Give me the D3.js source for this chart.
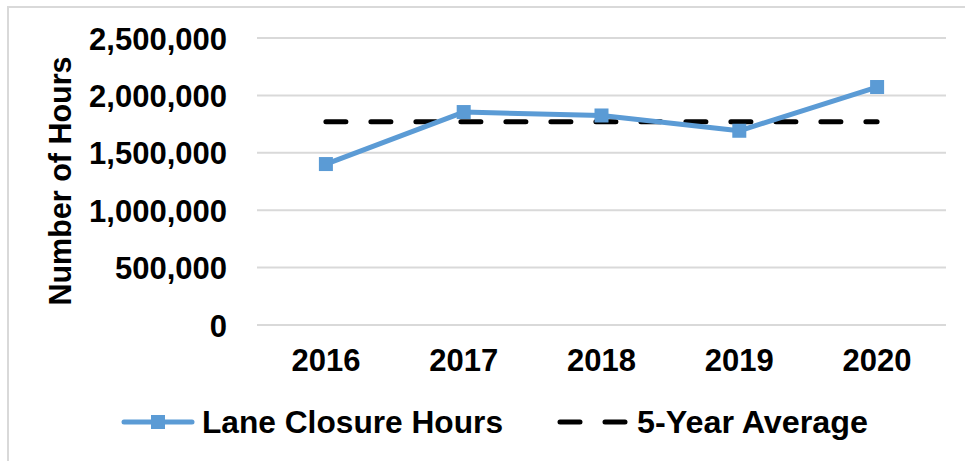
<!DOCTYPE html>
<html>
<head>
<meta charset="utf-8">
<script src="https://cdn.jsdelivr.net/npm/d3@7"></script>
<style>
  body { margin: 0; background: #fff; }
  text { font-family: "Liberation Sans", Arial, sans-serif; font-weight: bold; fill: #000; }
</style>
</head>
<body>
<svg width="965" height="461"></svg>
<script>
var svg = d3.select('svg');

// data
var years = ["2016", "2017", "2018", "2019", "2020"];
var hours = [1402000, 1855000, 1825000, 1692000, 2073000];
var yTicks = [0, 500000, 1000000, 1500000, 2000000, 2500000];
var avg = d3.mean(hours);

// plot box (note: "top" is taken by window.top)
var plotLeft = 257, plotRight = 946, plotTop = 38, plotBottom = 325;

// outer border
svg.append('rect')
  .attr('x', 8).attr('y', 7)
  .attr('width', 970).attr('height', 470)
  .attr('fill', 'none')
  .attr('stroke', '#d9d9d9')
  .attr('stroke-width', 2);

var x = d3.scaleBand().domain(years).range([plotLeft, plotRight]);
var y = d3.scaleLinear().domain([0, 2500000]).range([plotBottom, plotTop]);

// gridlines
svg.selectAll('line.grid')
  .data(yTicks)
  .enter()
  .append('line')
  .attr('class', 'grid')
  .attr('x1', plotLeft).attr('x2', plotRight)
  .attr('y1', function(d){ return y(d); })
  .attr('y2', function(d){ return y(d); })
  .attr('stroke', '#d9d9d9')
  .attr('stroke-width', 2);

// y axis
var yAxis = svg.append('g')
  .attr('transform', 'translate(' + (plotLeft - 30) + ',0)')
  .call(d3.axisLeft(y).tickValues(yTicks).tickSize(0).tickPadding(0).tickFormat(d3.format(',')));
yAxis.select('.domain').remove();
yAxis.selectAll('text')
  .attr('dy', '0.36em')
  .style('font-size', '31px')
  .style('font-family', '"Liberation Sans", Arial, sans-serif')
  .style('font-weight', 'bold')
  .attr('fill', '#000');

// x axis
var xAxis = svg.append('g')
  .attr('transform', 'translate(0,' + plotBottom + ')')
  .call(d3.axisBottom(x).tickSize(0).tickPadding(0));
xAxis.select('.domain').remove();
xAxis.selectAll('text')
  .attr('y', 46)
  .attr('dy', 0)
  .style('font-size', '31px')
  .style('font-family', '"Liberation Sans", Arial, sans-serif')
  .style('font-weight', 'bold')
  .attr('fill', '#000');

// y title
svg.append('text')
  .attr('transform', 'translate(71,181) rotate(-90)')
  .attr('text-anchor', 'middle')
  .style('font-size', '30.5px')
  .text('Number of Hours');

function cx(d, i){ return x(years[i]) + x.bandwidth() / 2; }

// 5-year average
svg.append('line')
  .attr('x1', x(years[0]) + x.bandwidth() / 2)
  .attr('x2', x(years[years.length - 1]) + x.bandwidth() / 2)
  .attr('y1', y(avg)).attr('y2', y(avg))
  .attr('stroke', '#000')
  .attr('stroke-width', 5)
  .attr('stroke-dasharray', '20,25')
  .attr('stroke-linecap', 'round');

// lane closure hours
var line = d3.line()
  .x(cx)
  .y(function(d){ return y(d); });

svg.append('path')
  .datum(hours)
  .attr('d', line)
  .attr('fill', 'none')
  .attr('stroke', '#5b9bd5')
  .attr('stroke-width', 5)
  .attr('stroke-linejoin', 'round');

svg.selectAll('rect.marker')
  .data(hours)
  .enter()
  .append('rect')
  .attr('class', 'marker')
  .attr('x', function(d, i){ return cx(d, i) - 7; })
  .attr('y', function(d){ return y(d) - 7; })
  .attr('width', 14).attr('height', 14)
  .attr('fill', '#5b9bd5');

// legend
var ly = 422;
svg.append('line')
  .attr('x1', 124).attr('x2', 192)
  .attr('y1', ly).attr('y2', ly)
  .attr('stroke', '#5b9bd5')
  .attr('stroke-width', 5)
  .attr('stroke-linecap', 'round');
svg.append('rect')
  .attr('x', 151).attr('y', ly - 7)
  .attr('width', 14).attr('height', 14)
  .attr('fill', '#5b9bd5');
svg.append('text')
  .attr('x', 202).attr('y', 433)
  .attr('textLength', 301)
  .attr('lengthAdjust', 'spacingAndGlyphs')
  .style('font-size', '31px')
  .text('Lane Closure Hours');

svg.append('line')
  .attr('x1', 560).attr('x2', 625)
  .attr('y1', ly).attr('y2', ly)
  .attr('stroke', '#000')
  .attr('stroke-width', 5)
  .attr('stroke-dasharray', '20,25')
  .attr('stroke-linecap', 'round');
svg.append('text')
  .attr('x', 637).attr('y', 433)
  .attr('textLength', 231)
  .attr('lengthAdjust', 'spacingAndGlyphs')
  .style('font-size', '31px')
  .text('5-Year Average');
</script>
</body>
</html>
